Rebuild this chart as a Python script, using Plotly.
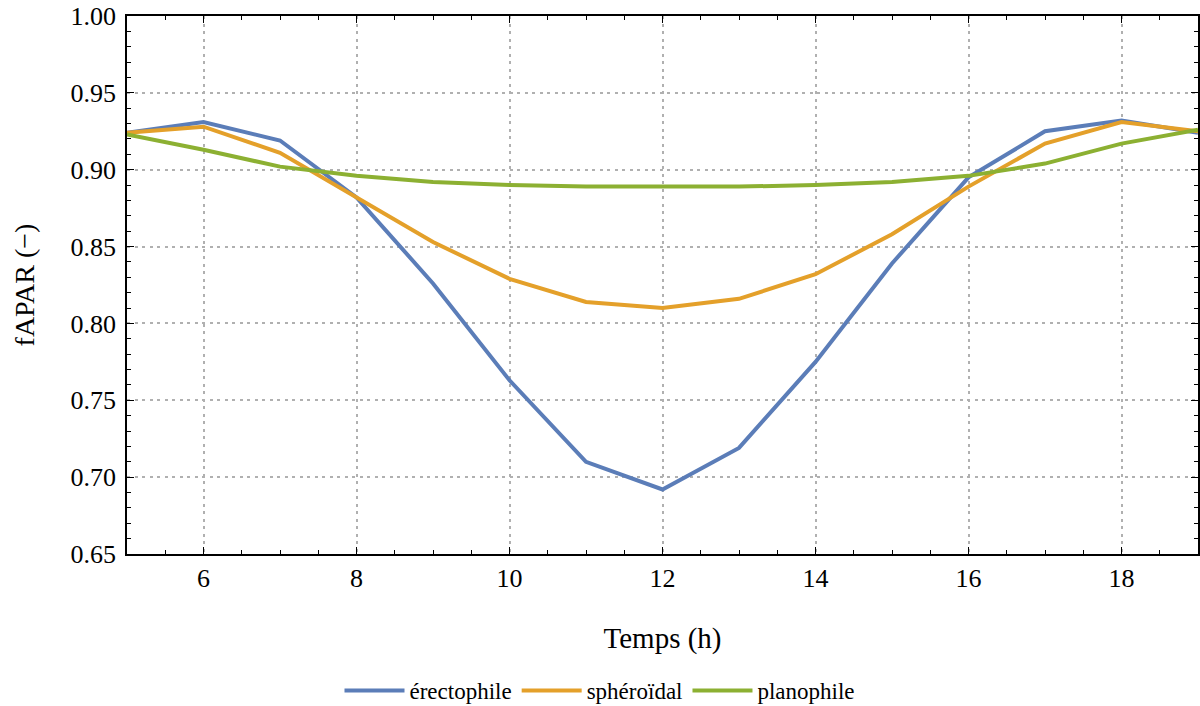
import plotly.graph_objects as go

hours = list(range(5, 20))
erectophile = [0.924, 0.931, 0.919, 0.882, 0.826, 0.763, 0.710, 0.692, 0.719, 0.775, 0.839, 0.895, 0.925, 0.932, 0.924]
spheroidal = [0.924, 0.928, 0.911, 0.882, 0.853, 0.829, 0.814, 0.810, 0.816, 0.832, 0.858, 0.889, 0.917, 0.931, 0.925]
planophile = [0.923, 0.913, 0.902, 0.896, 0.892, 0.890, 0.889, 0.889, 0.889, 0.890, 0.892, 0.896, 0.904, 0.917, 0.926]

series_names = ["érectophile", "sphéroïdal", "planophile"]
series_vals = [erectophile, spheroidal, planophile]
colors = ["#5b7db8", "#e4a02a", "#8cb032"]

FONT = "Liberation Serif"

fig = go.Figure()
for name, vals, c in zip(series_names, series_vals, colors):
    fig.add_trace(go.Scatter(x=hours, y=vals, mode="lines", name=name,
                             line=dict(color=c, width=4)))

axis_common = dict(
    showline=True, linecolor="black", linewidth=1.5, mirror="ticks",
    ticks="inside", ticklen=7, tickwidth=1.4, tickcolor="black",
    showgrid=True, gridcolor="#b0b0b0", griddash="3px,4.5px", gridwidth=2,
    zeroline=False, automargin=False,
    tickfont=dict(family=FONT, size=26, color="black"),
)

fig.update_xaxes(range=[5, 19], dtick=2, tick0=0,
                 minor=dict(ticks="inside", dtick=0.5, ticklen=4, tickcolor="black", tickwidth=1.4),
                 title=dict(text="Temps (h)", font=dict(family=FONT, size=29, color="black"), standoff=36),
                 **axis_common)
fig.update_yaxes(range=[0.65, 1.0], dtick=0.05, tick0=0, tickformat=".2f",
                 minor=dict(ticks="inside", dtick=0.01, ticklen=4, tickcolor="black", tickwidth=1.4),
                 title=dict(text="fAPAR (−)", font=dict(family=FONT, size=28, color="black"), standoff=28),
                 ticklabelstandoff=4,
                 **axis_common)

fig.update_layout(
    width=1200, height=706,
    margin=dict(l=127, r=2, t=16, b=152),
    plot_bgcolor="white", paper_bgcolor="white",
    font=dict(family=FONT, size=20, color="black"),
    showlegend=True,
    legend=dict(orientation="h", x=0.5, xanchor="center", xref="container",
                y=0.022, yanchor="middle", yref="container",
                font=dict(family=FONT, size=23, color="black"),
                itemwidth=60),
)

fig.write_html("out.html", config={"displayModeBar": False},
               post_script="document.body.style.margin='0';document.body.style.overflow='hidden';")
